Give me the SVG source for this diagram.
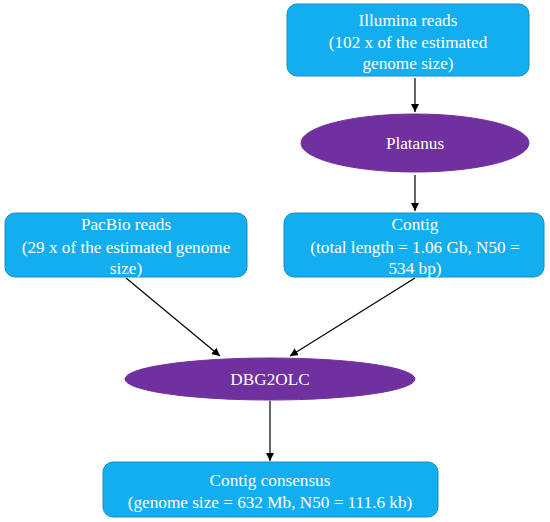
<svg xmlns="http://www.w3.org/2000/svg" width="550" height="522" viewBox="0 0 550 522">
<defs>
<marker id="ah" viewBox="0 0 10 10" refX="10" refY="5" markerWidth="8" markerHeight="8" markerUnits="userSpaceOnUse" orient="auto"><path d="M0,0 L10,5 L0,10 z" fill="#000"/></marker>
<style>
.box{fill:#13aef0;stroke:#1b8cc0;stroke-width:1}
.ell{fill:#7030a0;stroke:#7030a0}
.t{font-family:"Liberation Serif",serif;font-size:17.2px;fill:#fff;text-anchor:middle}
.c{stroke:#000;stroke-width:1.2;fill:none;marker-end:url(#ah)}
</style>
</defs>
<rect width="550" height="522" fill="#fff"/>
<g id="connectors">
<line class="c" x1="415" y1="78" x2="415" y2="112"/>
<line class="c" x1="415" y1="175" x2="415" y2="211"/>
<line class="c" x1="126" y1="278" x2="220" y2="356"/>
<line class="c" x1="415" y1="278" x2="290" y2="356"/>
<line class="c" x1="270" y1="401" x2="270" y2="461"/>
</g>
<g id="illumina">
<rect class="box" x="287" y="4" width="242" height="72" rx="10"/>
<text class="t" x="408" y="26">Illumina reads</text>
<text class="t" x="408" y="48">(102 x of the estimated</text>
<text class="t" x="408" y="69">genome size)</text>
</g>
<g id="platanus">
<ellipse class="ell" cx="415" cy="143" rx="114" ry="29"/>
<text class="t" x="415" y="149">Platanus</text>
</g>
<g id="pacbio">
<rect class="box" x="5" y="213" width="242" height="64" rx="10"/>
<text class="t" x="126" y="230">PacBio reads</text>
<text class="t" x="126" y="253">(29 x of the estimated genome</text>
<text class="t" x="126" y="274">size)</text>
</g>
<g id="contig">
<rect class="box" x="284" y="213" width="260" height="64" rx="10"/>
<text class="t" x="415" y="230">Contig</text>
<text class="t" x="415" y="253">(total length = 1.06 Gb, N50 =</text>
<text class="t" x="415" y="274">534 bp)</text>
</g>
<g id="dbg2olc">
<ellipse class="ell" cx="270" cy="379" rx="145" ry="21"/>
<text class="t" x="270" y="385">DBG2OLC</text>
</g>
<g id="consensus">
<rect class="box" x="103" y="462" width="335" height="55" rx="10"/>
<text class="t" x="270" y="486">Contig consensus</text>
<text class="t" x="270" y="508">(genome size = 632 Mb, N50 = 111.6 kb)</text>
</g>
</svg>
